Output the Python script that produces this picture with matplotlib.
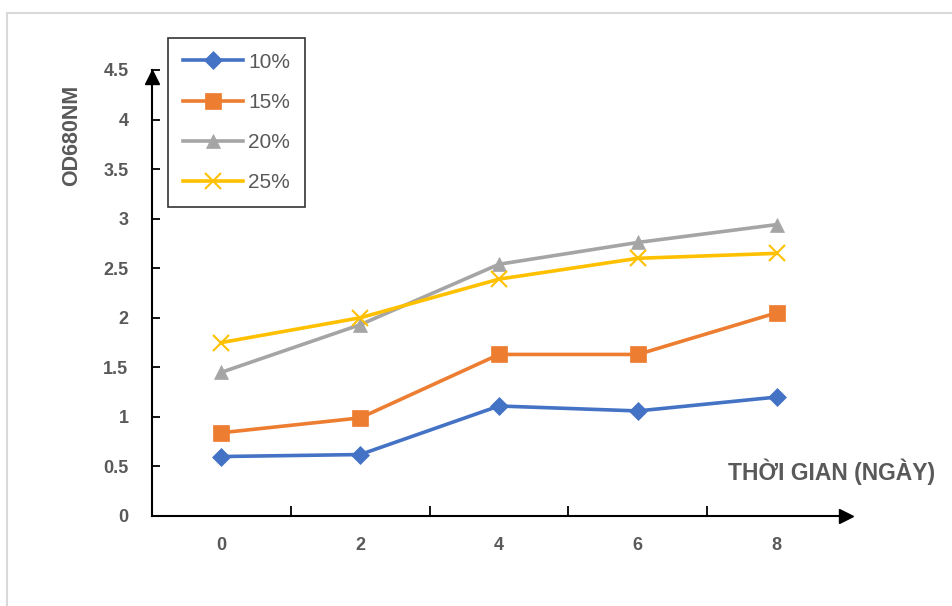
import matplotlib
matplotlib.use("Agg")
import matplotlib.pyplot as plt
from matplotlib.lines import Line2D

plt.rcParams['font.family'] = ['Liberation Sans', 'DejaVu Sans']

days = ['0', '2', '4', '6', '8']
series_names = ['10%', '15%', '20%', '25%']
s10 = [0.60, 0.62, 1.11, 1.06, 1.20]
s15 = [0.84, 0.99, 1.63, 1.63, 2.05]
s20 = [1.45, 1.93, 2.54, 2.76, 2.94]
s25 = [1.75, 2.00, 2.39, 2.60, 2.65]
y_ticks = [0, 0.5, 1, 1.5, 2, 2.5, 3, 3.5, 4, 4.5]
y_tick_labels = ['0', '0.5', '1', '1.5', '2', '2.5', '3', '3.5', '4', '4.5']

colors = ['#4472C4', '#ED7D31', '#A5A5A5', '#FFC000']
markers = ['D', 's', '^', 'x']
msizes = [9, 11, 10, 11]
txt = '#595959'

W, H = 953, 606
fig = plt.figure(figsize=(W/100, H/100), dpi=100)
fig.patch.set_facecolor('white')

# chart area border (top and left visible)
fig.add_artist(Line2D([7/W, 1.0], [1-13/H, 1-13/H], color='#D9D9D9', lw=1.5, transform=fig.transFigure))
fig.add_artist(Line2D([7/W, 7/W], [0, 1-13/H], color='#D9D9D9', lw=1.5, transform=fig.transFigure))

ax = fig.add_axes([152/W, 1-516/H, 694/W, 446/H])
x = list(range(len(days)))
for vals, name, c, m, ms in zip([s10, s15, s20, s25], series_names, colors, markers, msizes):
    ax.plot(x, vals, color=c, lw=2.6, marker=m, markersize=ms, label=name,
            markeredgewidth=1.5 if m == 'x' else 0.5, markeredgecolor=c, zorder=3)

ax.set_xlim(-0.5, len(days) - 0.5)
ax.set_ylim(0, 4.5)
for s in ['top', 'right']:
    ax.spines[s].set_visible(False)
for s in ['left', 'bottom']:
    ax.spines[s].set_color('black')
    ax.spines[s].set_linewidth(1.5)

ax.set_xticks(x)
ax.set_xticklabels(days)
ax.set_xticks([i + 0.5 for i in range(len(days) - 1)], minor=True)
ax.tick_params(axis='x', which='major', length=0, pad=15, labelsize=13, labelcolor=txt)
ax.tick_params(axis='x', which='minor', direction='in', length=7, width=1.3, color='black')
ax.set_yticks(y_ticks)
ax.set_yticklabels(y_tick_labels)
ax.tick_params(axis='y', which='major', direction='in', length=6, width=1.3, pad=17,
               labelsize=13, labelcolor=txt)
for lab in ax.get_xticklabels() + ax.get_yticklabels():
    lab.set_fontweight('bold')

# arrows
ax.plot(1, 0, marker='>', color='black', markersize=10, transform=ax.transAxes, clip_on=False)
ax.plot(0, 0.985, marker='^', color='black', markersize=10, transform=ax.transAxes, clip_on=False)

fig.text(72/W, 1-135/H, 'OD680NM', rotation=90, ha='center', va='center',
         fontsize=15.5, fontweight='bold', color=txt)
fig.text(832/W, 1-472/H, 'THỜI GIAN (NGÀY)', ha='center', va='center',
         fontsize=16.5, fontweight='bold', color=txt)

leg = ax.legend(loc='upper left', bbox_to_anchor=(168/W, 1-38/H), bbox_transform=fig.transFigure,
                frameon=True, fancybox=False, edgecolor='black', fontsize=15,
                handlelength=2.9, labelspacing=1.02, borderpad=0.7, handletextpad=0.25,
                borderaxespad=0)
leg.get_frame().set_linewidth(1.2)
for t in leg.get_texts():
    t.set_color(txt)

fig.savefig('out.png', dpi=100)
